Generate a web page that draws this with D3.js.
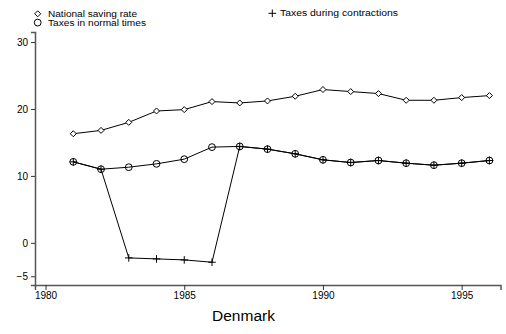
<!DOCTYPE html>
<html>
<head>
<meta charset="utf-8">
<script src="https://cdn.jsdelivr.net/npm/d3@7"></script>
<style>
  body { margin: 0; background: #fff; }
  svg { display: block; font-family: "Liberation Sans", Arial, sans-serif; }
</style>
</head>
<body>
<svg id="chart" width="506" height="334"></svg>
<script>
const years = [1981,1982,1983,1984,1985,1986,1987,1988,1989,1990,1991,1992,1993,1994,1995,1996];
const savingRate = [16.3,16.8,18.0,19.7,19.9,21.1,20.9,21.2,21.9,22.9,22.6,22.3,21.3,21.3,21.7,22.0];
const taxesNormal = [12.1,11.0,11.3,11.8,12.5,14.3,14.4,14.0,13.3,12.4,12.0,12.3,11.9,11.6,11.9,12.3];
const taxesContractions = [12.1,11.0,-2.25,-2.4,-2.55,-2.9,14.4,14.0,13.3,12.4,12.0,12.3,11.9,11.6,11.9,12.3];
const yTicks = [-5, 0, 10, 20, 30];
const xTicks = [1980, 1985, 1990, 1995];
const legendLabels = ["National saving rate", "Taxes in normal times", "Taxes during contractions"];
const chartTitle = "Denmark";

const svg = d3.select("#chart");
const x = d3.scaleLinear().domain([1979.62, 1996.4]).range([35, 500.5]);
const y = d3.scaleLinear().domain([-6.3, 31.5]).range([285, 32]);

// axes
const xAxis = svg.append("g").attr("transform", "translate(0,285)")
  .call(d3.axisBottom(x).tickValues(xTicks).tickFormat(d3.format("d")).tickSizeOuter(0).tickSize(5).tickPadding(2));
const yAxis = svg.append("g").attr("transform", "translate(35,0)")
  .call(d3.axisLeft(y).tickValues(yTicks).tickSizeOuter(0).tickSize(4).tickPadding(3));
[xAxis, yAxis].forEach(g => {
  g.select(".domain").attr("stroke", "#555").attr("stroke-width", 1.5);
  g.selectAll(".tick line").attr("stroke", "#333");
  g.selectAll(".tick text").attr("font-size", 10).attr("fill", "#000")
    .attr("font-family", "'Liberation Sans', Arial, sans-serif");
});

const line = (vals) => d3.line().x((d, i) => x(years[i])).y(d => y(d))(vals);

// lines
[savingRate, taxesNormal, taxesContractions].forEach(vals => {
  svg.append("path").attr("d", line(vals)).attr("fill", "none")
    .attr("stroke", "#000").attr("stroke-width", 1);
});

// marker drawers
function diamond(g, cx, cy) {
  const r = 3.0;
  g.append("path").attr("d", `M${cx},${cy-r}L${cx+r},${cy}L${cx},${cy+r}L${cx-r},${cy}Z`)
    .attr("fill", "#fff").attr("stroke", "#000").attr("stroke-width", 1);
}
function circle(g, cx, cy) {
  g.append("circle").attr("cx", cx).attr("cy", cy).attr("r", 3.4)
    .attr("fill", "none").attr("stroke", "#000").attr("stroke-width", 1);
}
function plus(g, cx, cy) {
  const r = 3.8;
  g.append("path").attr("d", `M${cx-r},${cy}H${cx+r}M${cx},${cy-r}V${cy+r}`)
    .attr("fill", "none").attr("stroke", "#000").attr("stroke-width", 1);
}

const marks = svg.append("g");
savingRate.forEach((v, i) => diamond(marks, x(years[i]), y(v)));
taxesNormal.forEach((v, i) => circle(marks, x(years[i]), y(v)));
taxesContractions.forEach((v, i) => plus(marks, x(years[i]), y(v)));

// legend
const leg = svg.append("g").attr("font-size", 8.5).attr("fill", "#000");
diamond(leg, 37.7, 13.8);
leg.append("text").attr("x", 48).attr("y", 13.8).attr("dy", "0.35em")
  .attr("textLength", 89).attr("lengthAdjust", "spacingAndGlyphs").text(legendLabels[0]);
circle(leg, 37.7, 22.6);
leg.append("text").attr("x", 48).attr("y", 22.6).attr("dy", "0.35em")
  .attr("textLength", 98).attr("lengthAdjust", "spacingAndGlyphs").text(legendLabels[1]);
plus(leg, 272.3, 13.3);
leg.append("text").attr("x", 280).attr("y", 13.3).attr("dy", "0.35em")
  .attr("textLength", 118).attr("lengthAdjust", "spacingAndGlyphs").text(legendLabels[2]);

// title
svg.append("text").attr("x", 243.5).attr("y", 321).attr("text-anchor", "middle")
  .attr("font-size", 15.5).attr("fill", "#000").text(chartTitle);
</script>
</body>
</html>
